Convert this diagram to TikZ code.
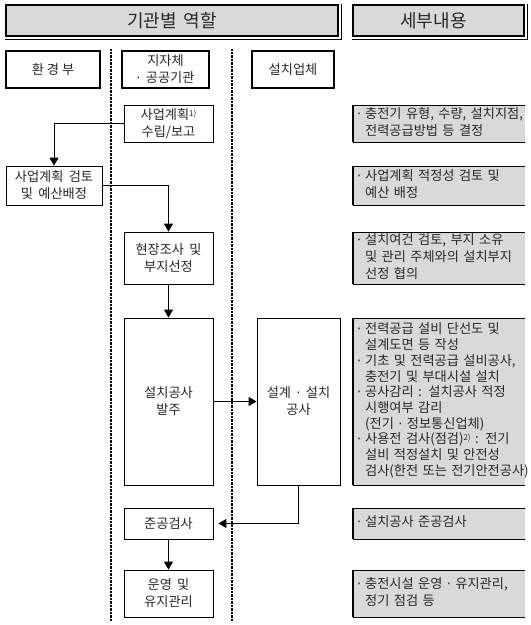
\documentclass[tikz,border=0pt]{standalone}
\usepackage{fontspec}
\setmainfont{Noto Sans CJK KR}
\newfontfamily\dotf{DejaVu Sans}
\usetikzlibrary{arrows.meta}
\definecolor{boxgray}{RGB}{217,217,217}
\definecolor{txt}{RGB}{40,40,40}
\newcommand{\md}{{\dotf ·}}
\newcommand{\bl}{\makebox[8pt][l]{\md}}
\newcommand{\wsp}{\spaceskip=0.4em\relax}
\newcommand{\supnum}[1]{\raisebox{0.45ex}{\fontsize{8}{8}\selectfont #1}}
\begin{document}
\begin{tikzpicture}[x=1pt,y=-1pt,
  every node/.style={text=txt},
  bodyfont/.style={font=\fontsize{13.2}{17}\selectfont\wsp},
  tightfont/.style={font=\fontsize{13.2}{15.7}\selectfont\wsp},
  hdrbox/.style={draw=black,line width=1.1pt,fill=boxgray,inner sep=0pt,
    font=\fontsize{18}{19}\selectfont\wsp},
  colbox/.style={draw=black,line width=1.6pt,fill=white,inner sep=0pt,align=center,bodyfont},
  flowbox/.style={draw=black,line width=0.8pt,fill=white,inner sep=0pt,align=center,bodyfont},
  graybox/.style={fill=boxgray,inner xsep=4pt,inner ysep=0pt,align=left,text width=164pt,anchor=west,bodyfont},
  conn/.style={line width=0.8pt},
  arr/.style={conn,-{Triangle[width=9pt,length=8pt]}},
  divider/.style={line width=1.3pt,dash pattern=on 0.8pt off 0.6pt}
]
\useasboundingbox (0,0) rectangle (531,625);
% headers
\node[hdrbox,minimum width=332pt,minimum height=31pt] (h1) at (172,20.5) {기관별 역할};
\node[hdrbox,minimum width=171pt,minimum height=31pt] (h2) at (438.5,20.5) {\hspace*{-10pt}세부내용};
\foreach \h in {h1,h2}{
  \draw[line width=0.8pt] ([yshift=-2.5pt]\h.south west) -- ([xshift=2.5pt,yshift=-2.5pt]\h.south east) -- ([xshift=2.5pt]\h.north east);
}
% dividers
\coordinate (d1t) at (111,49); \coordinate (d1b) at (111,621);
\coordinate (d2t) at (232,49); \coordinate (d2b) at (232,621);
\draw[divider] (d1t) -- (d1b);
\draw[divider] (d2t) -- (d2b);
% column headers
\node[colbox,minimum width=94pt,minimum height=37pt] (c1) at (53,69.5) {환\hspace{3pt}경\hspace{3pt}부};
\node[colbox,minimum width=87pt,minimum height=37pt] (c2) at (165.5,69.5) {지자체\\\md{} 공공기관};
\node[colbox,minimum width=82pt,minimum height=37pt] (c3) at (293,69.5) {설치업체};
% flow boxes
\node[flowbox,minimum width=89pt,minimum height=37pt] (f1) at (168.5,123.5) {사업계획\supnum{1)}\\수립/보고};
\node[flowbox,minimum width=96pt,minimum height=39pt] (f2) at (54,185.5) {사업계획 검토\\및 예산배정};
\node[flowbox,minimum width=89pt,minimum height=52pt] (f3) at (168.5,258) {현장조사 및\\부지선정};
\node[flowbox,minimum width=89pt,minimum height=167pt] (f4) at (168.5,401.5) {설치공사\\발주};
\node[flowbox,minimum width=83pt,minimum height=167pt] (f5) at (298.5,401.5) {설계 \md{} 설치\\공사};
\node[flowbox,minimum width=89pt,minimum height=31pt] (f6) at (168.5,523.5) {준공검사};
\node[flowbox,minimum width=89pt,minimum height=47pt] (f7) at (168.5,593.5) {운영 및\\유지관리};
% connectors
\draw[arr] (f1.west) -| (f2.north);
\draw[arr] (f2.east) -| (f3.north);
\draw[arr] (f3.south) -- (f4.north);
\draw[arr] (f4.east) -- (f5.west);
\draw[arr] (f5.south) |- ([xshift=5pt]f6.east);
\draw[arr] (f6.south) -- (f7.north);
% detail boxes
\node[graybox,minimum height=37pt] (g1) at (353,123.5) {\begin{tabular}{@{}l@{}l@{}}\bl&충전기 유형, 수량, 설치지점,\\&전력공급방법 등 결정\end{tabular}};
\node[graybox,minimum height=39pt] (g2) at (353,185.5) {\begin{tabular}{@{}l@{}l@{}}\bl&사업계획 적정성 검토 및\\&예산 배정\end{tabular}};
\node[graybox,minimum height=52pt] (g3) at (353,258) {\begin{tabular}{@{}l@{}l@{}}\bl&설치여건 검토, 부지 소유\\&및 관리 주체와의 설치부지\\&선정 협의\end{tabular}};
\node[graybox,tightfont,minimum height=167pt] (g4) at (353,401.5) {\begin{tabular}{@{}l@{}l@{}}\bl&전력공급 설비 단선도 및\\&설계도면 등 작성\\\bl&기초 및 전력공급 설비공사,\\&충전기 및 부대시설 설치\\\bl&공사감리 : 설치공사 적정\\&시행여부 감리\\&(전기 \md{} 정보통신업체)\\\bl&사용전 검사(점검)\supnum{2)} : 전기\\&설비 적정설치 및 안전성\\&검사(한전 또는 전기안전공사)\end{tabular}};
\node[graybox,minimum height=31pt] (g5) at (353,523.5) {\begin{tabular}{@{}l@{}l@{}}\bl&설치공사 준공검사\end{tabular}};
\node[graybox,minimum height=47pt] (g6) at (353,593.5) {\begin{tabular}{@{}l@{}l@{}}\bl&충전시설 운영 \md{} 유지관리,\\&정기 점검 등\end{tabular}};
\foreach \g in {g1,g2,g3,g4,g5,g6}{
  \draw[line width=0.5pt] (\g.north west) -- (\g.north east);
  \draw[line width=1.1pt] (\g.south west) -- (\g.south east);
  \draw[line width=1.6pt] (\g.south west) -- (\g.north west);
}
\end{tikzpicture}
\end{document}
